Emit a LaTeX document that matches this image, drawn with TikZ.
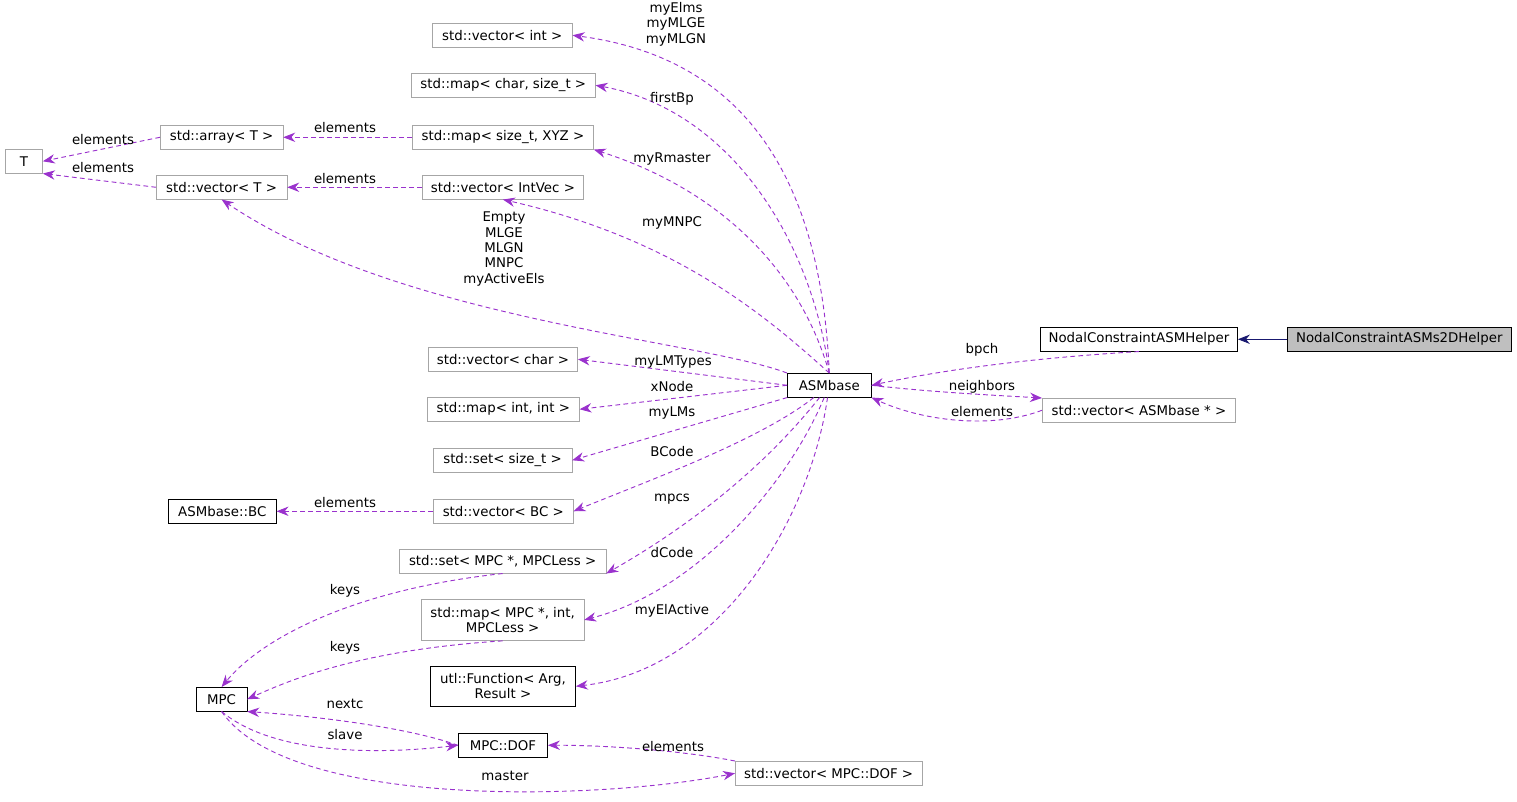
\documentclass[tikz,border=0pt]{standalone}
\usepackage{fontspec}
\setmainfont{DejaVu Sans}
\usetikzlibrary{arrows.meta}
\definecolor{edge}{HTML}{9A32CD}
\definecolor{navy}{HTML}{191970}
\begin{document}
\begin{tikzpicture}[x=0.75pt,y=-0.75pt,
  every node/.style={font=\fontsize{10}{11.5}\selectfont, inner sep=0pt},
  gbox/.style={draw=black!35, fill=white, minimum height=18pt, anchor=north west, inner xsep=0pt, align=center},
  bbox/.style={gbox, draw=black},
  mem/.style={draw=edge, line width=0.7pt, dash pattern=on 3.5pt off 2.5pt, -{Stealth[length=9pt,width=7pt]}},
  lab/.style={align=center, fill=none}]
\useasboundingbox (0,0) rectangle (1517,801);
\node[gbox,minimum width=105pt] (vint) at (432,23) {std::vector< int >};
\node[gbox,minimum width=138pt] (mchar) at (411,73) {std::map< char, size\_t >};
\node[gbox,minimum width=92pt] (arrT) at (160,125) {std::array< T >};
\node[gbox,minimum width=28pt] (T) at (5,149) {T};
\node[gbox,minimum width=136pt] (mxyz) at (412,125) {std::map< size\_t, XYZ >};
\node[gbox,minimum width=98pt] (vT) at (156,175) {std::vector< T >};
\node[gbox,minimum width=121pt] (vIV) at (422,175) {std::vector< IntVec >};
\node[bbox,minimum width=63pt] (asm) at (787,373) {ASMbase};
\node[bbox,minimum width=148pt] (helper) at (1040,327) {NodalConstraintASMHelper};
\node[bbox,minimum width=168pt,fill=black!25] (h2d) at (1287,327) {NodalConstraintASMs2DHelper};
\node[gbox,minimum width=112pt] (vchar) at (428,347) {std::vector< char >};
\node[gbox,minimum width=114pt] (mii) at (427,397) {std::map< int, int >};
\node[gbox,minimum width=104pt] (ssz) at (433,448) {std::set< size\_t >};
\node[gbox,minimum width=105pt] (vBC) at (433,499) {std::vector< BC >};
\node[bbox,minimum width=81pt] (BC) at (168,499) {ASMbase::BC};
\node[gbox,minimum width=155pt] (sMPC) at (399,549) {std::set< MPC *, MPCLess >};
\node[gbox,minimum width=122pt,minimum height=31pt] (mMPC) at (421,599) {std::map< MPC *, int,\\MPCLess >};
\node[bbox,minimum width=109pt,minimum height=30pt] (fun) at (430,666) {utl::Function< Arg,\\Result >};
\node[bbox,minimum width=38pt] (MPC) at (196,687) {MPC};
\node[bbox,minimum width=67pt] (dof) at (458,733) {MPC::DOF};
\node[gbox,minimum width=140pt] (vdof) at (735,761) {std::vector< MPC::DOF >};
\node[gbox,minimum width=145pt] (vasm) at (1042,398) {std::vector< ASMbase * >};

\draw[navy,line width=0.7pt,-{Stealth[length=9pt,width=7pt]}] (h2d) -- (helper);
\draw[mem] (asm.north) .. controls (822,200) and (760,60) .. (vint.east);
\node[lab] at (676,24) {myElms\\myMLGE\\myMLGN};
\draw[mem] (asm.north) .. controls (812,240) and (730,110) .. (mchar.east);
\node[lab] at (672,99) {firstBp};
\draw[mem] (asm.north) .. controls (800,270) and (720,190) .. (mxyz.south east);
\node[lab] at (672,159) {myRmaster};
\draw[mem] (asm.north) .. controls (770,320) and (680,240) .. (vIV.south);
\node[lab] at (672,223) {myMNPC};
\draw[mem] (asm.north west) .. controls (700,340) and (400,320) .. (vT.south);
\node[lab] at (504,249) {Empty\\MLGE\\MLGN\\MNPC\\myActiveEls};
\draw[mem] (mxyz) -- (arrT);
\node[lab] at (345,128) {elements};
\draw[mem] (vIV) -- (vT);
\node[lab] at (345,179) {elements};
\draw[mem] (arrT.west) -- (T.east);
\node[lab] at (103,140) {elements};
\draw[mem] (vT.west) -- (T.south east);
\node[lab] at (103,168) {elements};
\draw[mem] (asm.west) -- (vchar.east);
\node[lab] at (673,362) {myLMTypes};
\draw[mem] (asm.west) -- (mii.east);
\node[lab] at (672,387) {xNode};
\draw[mem] (asm) -- (ssz.east);
\node[lab] at (672,413) {myLMs};
\draw[mem] (asm) .. controls (760,440) and (650,480) .. (vBC.east);
\node[lab] at (672,452) {BCode};
\draw[mem] (asm) .. controls (770,460) and (700,520) .. (sMPC.south east);
\node[lab] at (672,499) {mpcs};
\draw[mem] (asm) .. controls (790,480) and (700,590) .. (mMPC.east);
\node[lab] at (672,553) {dCode};
\draw[mem] (asm) .. controls (810,520) and (720,670) .. (fun.east);
\node[lab] at (672,611) {myElActive};
\draw[mem] (vBC) -- (BC);
\node[lab] at (345,503) {elements};
\draw[mem] (helper.south) .. controls (1000,360) and (920,375) .. (asm.east);
\node[lab] at (982,350) {bpch};
\draw[mem] (asm.east) .. controls (930,392) and (990,395) .. (vasm.north west);
\node[lab] at (982,387) {neighbors};
\draw[mem] (vasm.west) .. controls (990,430) and (920,420) .. (asm.south east);
\node[lab] at (982,412) {elements};
\draw[mem] (sMPC.south) .. controls (350,590) and (260,640) .. (MPC.north);
\node[lab] at (345,591) {keys};
\draw[mem] (mMPC.south) .. controls (360,650) and (290,680) .. (MPC.east);
\node[lab] at (345,648) {keys};
\draw[mem] (dof.west) .. controls (400,725) and (300,715) .. (MPC.south east);
\node[lab] at (345,704) {nextc};
\draw[mem] (MPC.south) .. controls (280,760) and (400,752) .. (dof.west);
\node[lab] at (345,735) {slave};
\draw[mem] (vdof.north west) .. controls (680,750) and (600,745) .. (dof.east);
\node[lab] at (673,747) {elements};
\draw[mem] (MPC.south) .. controls (290,810) and (600,800) .. (vdof.west);
\node[lab] at (505,776) {master};
\end{tikzpicture}
\end{document}
